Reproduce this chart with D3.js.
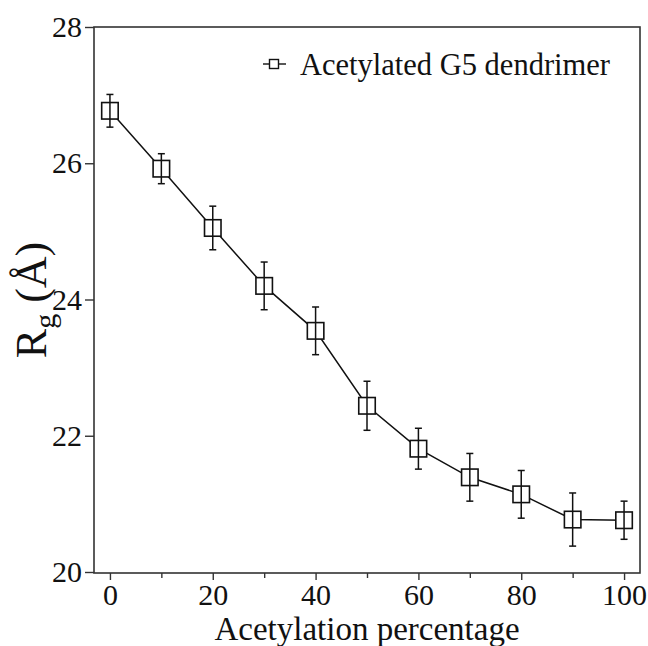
<!DOCTYPE html>
<html lang="en">
<head>
    <meta charset="UTF-8">
    <title>Rg vs acetylation</title>
    <style>
        html, body { margin: 0; padding: 0; background: #fff; }
    </style>
</head>
<body>
    <div id="chart"></div>

    <script src="https://d3js.org/d3.v7.min.js"></script>
    <script>
        // data
        const acetylation = [0, 10, 20, 30, 40, 50, 60, 70, 80, 90, 100];
        const rg = [26.77, 25.92, 25.05, 24.20, 23.54, 22.44, 21.81, 21.39, 21.14, 20.77, 20.76];
        const rgErr = [0.24, 0.22, 0.32, 0.35, 0.35, 0.36, 0.30, 0.35, 0.35, 0.39, 0.28];
        const xTicks = [0, 20, 40, 60, 80, 100];
        const xMinorTicks = [10, 30, 50, 70, 90];
        const yTicks = [20, 22, 24, 26, 28];
        const seriesName = "Acetylated G5 dendrimer";

        const width = 648;
        const height = 646;
        const frame = { left: 94, right: 640, top: 27, bottom: 573 };
        const serif = "'Liberation Serif', 'Times New Roman', Times, serif";

        const svg = d3.select("#chart").append("svg")
            .attr("width", width)
            .attr("height", height)
            .style("font-family", serif);

        const x = d3.scaleLinear()
            .domain([-3.1, 103.1])
            .range([frame.left, frame.right]);

        const y = d3.scaleLinear()
            .domain([20, 28])
            .range([572, 27]);

        const axisColor = "#333";

        // frame
        svg.append("rect")
            .attr("x", frame.left)
            .attr("y", frame.top)
            .attr("width", frame.right - frame.left)
            .attr("height", frame.bottom - frame.top)
            .attr("fill", "none")
            .attr("stroke", axisColor)
            .attr("stroke-width", 1.6);

        // x axis
        const xAxis = svg.append("g")
            .attr("transform", `translate(0, ${frame.bottom})`)
            .call(d3.axisBottom(x).tickValues(xTicks).tickSize(7).tickPadding(4).tickFormat(d3.format("d")));
        xAxis.attr("font-family", null).attr("font-size", null);
        xAxis.select(".domain").remove();
        xAxis.selectAll("line").attr("stroke", axisColor).attr("stroke-width", 1.4);
        xAxis.selectAll("text")
            .style("font-family", serif)
            .style("font-size", "30px")
            .attr("fill", "#111")
            .attr("dy", "0.71em");

        const xMinor = svg.append("g")
            .attr("transform", `translate(0, ${frame.bottom})`)
            .call(d3.axisBottom(x).tickValues(xMinorTicks).tickSize(5).tickFormat(""));
        xMinor.select(".domain").remove();
        xMinor.selectAll("line").attr("stroke", axisColor).attr("stroke-width", 1.4);

        // y axis
        const yAxis = svg.append("g")
            .attr("transform", `translate(${frame.left}, 0)`)
            .call(d3.axisLeft(y).tickValues(yTicks).tickSize(9).tickPadding(3).tickFormat(d3.format("d")));
        yAxis.attr("font-family", null).attr("font-size", null);
        yAxis.select(".domain").remove();
        yAxis.selectAll("line").attr("stroke", axisColor).attr("stroke-width", 1.4);
        yAxis.selectAll("text")
            .style("font-family", serif)
            .style("font-size", "30px")
            .attr("fill", "#111");

        // connecting line
        const points = acetylation.map((a, i) => ({ a, v: rg[i], e: rgErr[i] }));

        svg.append("path")
            .datum(points)
            .attr("fill", "none")
            .attr("stroke", "#111")
            .attr("stroke-width", 1.5)
            .attr("d", d3.line().x(d => x(d.a)).y(d => y(d.v)));

        // markers
        const box = 16.5;
        svg.selectAll(".marker")
            .data(points)
            .enter()
            .append("rect")
            .attr("class", "marker")
            .attr("x", d => x(d.a) - box / 2)
            .attr("y", d => y(d.v) - box / 2)
            .attr("width", box)
            .attr("height", box)
            .attr("fill", "#fff")
            .attr("stroke", "#111")
            .attr("stroke-width", 1.6);

        // error bars
        const cap = 3.5;
        const err = svg.selectAll(".err")
            .data(points)
            .enter()
            .append("g")
            .attr("class", "err")
            .attr("stroke", "#111")
            .attr("stroke-width", 1.5);

        err.append("line")
            .attr("x1", d => x(d.a)).attr("x2", d => x(d.a))
            .attr("y1", d => y(d.v + d.e)).attr("y2", d => y(d.v - d.e));
        err.append("line")
            .attr("x1", d => x(d.a) - cap).attr("x2", d => x(d.a) + cap)
            .attr("y1", d => y(d.v + d.e)).attr("y2", d => y(d.v + d.e));
        err.append("line")
            .attr("x1", d => x(d.a) - cap).attr("x2", d => x(d.a) + cap)
            .attr("y1", d => y(d.v - d.e)).attr("y2", d => y(d.v - d.e));

        // legend
        const legend = svg.append("g").attr("transform", "translate(274, 64)");
        legend.append("line")
            .attr("x1", -11).attr("x2", 12)
            .attr("stroke", "#111").attr("stroke-width", 1.4);
        legend.append("rect")
            .attr("x", -4.5).attr("y", -4.5)
            .attr("width", 9).attr("height", 9)
            .attr("fill", "#fff")
            .attr("stroke", "#111").attr("stroke-width", 1.4);
        legend.append("text")
            .attr("x", 26)
            .attr("y", 11)
            .attr("fill", "#111")
            .style("font-family", serif)
            .style("font-size", "30.5px")
            .text(seriesName);

        // axis titles
        svg.append("text")
            .attr("x", (frame.left + frame.right) / 2)
            .attr("y", 640)
            .attr("text-anchor", "middle")
            .attr("fill", "#111")
            .style("font-family", serif)
            .style("font-size", "33px")
            .text("Acetylation percentage");

        const yTitle = svg.append("text")
            .attr("transform", `translate(46, ${(frame.top + frame.bottom) / 2}) rotate(-90)`)
            .attr("text-anchor", "middle")
            .attr("fill", "#111")
            .style("font-family", serif)
            .style("font-size", "44px");
        yTitle.append("tspan").text("R");
        yTitle.append("tspan").attr("dy", 9).style("font-size", "30px").text("g");
        yTitle.append("tspan").attr("dy", -9).text(" (Å)");
    </script>
</body>
</html>
